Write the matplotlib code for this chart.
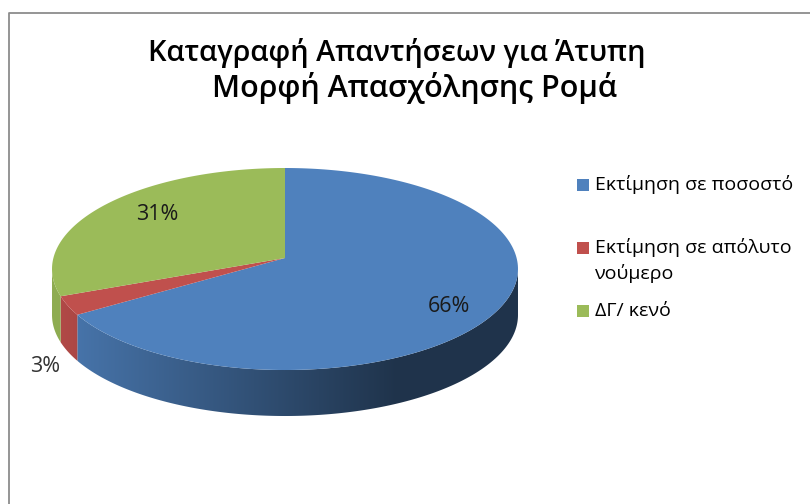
import numpy as np
import matplotlib
matplotlib.use('Agg')
import matplotlib.pyplot as plt
from matplotlib.colors import to_rgb
from matplotlib.patches import Polygon, Rectangle

plt.rcParams['font.family'] = ['Open Sans', 'DejaVu Sans']

title_lines = ['Καταγραφή Απαντήσεων για Άτυπη', 'Μορφή Απασχόλησης Ρομά']
categories = ['Εκτίμηση σε ποσοστό', 'Εκτίμηση σε απόλυτο\nνούμερο', 'ΔΓ/ κενό']
values = [66, 3, 31]
colors = ['#4f81bd', '#c0504d', '#9bbb59']

# pie geometry, in pixels of the picture
cx, cy = 285, 258
rx, ry, persp = 231.6, 99.8, 0.109
depth = 46


def project(frac):
    # fraction of the pie, clockwise from the top, seen in perspective
    t = 2 * np.pi * np.asarray(frac)
    u, v = np.sin(t), np.cos(t)
    w = 1 + persp * v
    return cx + rx * u / w, cy - ry * v / w


def side_gradient(color):
    # side of the pie gets darker to the right
    k = np.clip((np.arange(810) - 60) / (395 - 60), 0, 1)
    return (0.92 - 0.52 * k)[None, :, None] * np.array(to_rgb(color))


fig = plt.figure(figsize=(8.1, 5.04), dpi=100)
ax = fig.add_axes([0, 0, 1, 1])

# chart frame, runs off the right and bottom of the picture
ax.plot([8.5, 8.5, 810], [504, 12.5, 12.5], color='#8c8c8c', lw=1.3)

edges = np.cumsum([0] + values) / sum(values)

# only the part of the rim between the right and left extremes faces us
fine = np.linspace(0, 1, 2001)
fine_x = project(fine)[0]
front_start, front_end = fine[np.argmax(fine_x)], fine[np.argmin(fine_x)]

# sides first, top faces go over them
for start, end, color in zip(edges[:-1], edges[1:], colors):
    x, y = project(np.linspace(max(start, front_start), min(end, front_end), 200))
    poly = Polygon(np.c_[np.r_[x, x[::-1]], np.r_[y, y[::-1] + depth]], transform=ax.transData)
    im = ax.imshow(side_gradient(color), extent=(0, 810, 504, 0), aspect='auto', interpolation='bilinear')
    im.set_clip_path(poly)

for start, end, color in zip(edges[:-1], edges[1:], colors):
    x, y = project(np.linspace(start, end, 200))
    ax.fill(np.r_[cx, x], np.r_[cy, y], facecolor=color, edgecolor='none')

ax.set_xlim(0, 810)
ax.set_ylim(504, 0)
ax.axis('off')

# percent labels
ax.text(449, 307, '%d%%' % values[0], fontsize=15.5, color='#1a1a1a', ha='center', va='center')
ax.text(45, 366, '%d%%' % values[1], fontsize=15.5, color='#333333', ha='center', va='center')
ax.text(157, 214, '%d%%' % values[2], fontsize=15.5, color='#1a1a1a', ha='center', va='center')

ax.text(397, 53, title_lines[0], fontsize=20.8, fontweight='semibold', color='black',
        ha='center', va='center')
ax.text(414, 88, title_lines[1], fontsize=22, fontweight='semibold', color='black',
        ha='center', va='center')

# legend
for cat, color, ys, yt in zip(categories, colors, [185, 248, 311], [184, 260.5, 311]):
    ax.add_patch(Rectangle((577, ys - 6), 12, 12, facecolor=color, edgecolor='none'))
    ax.text(595, yt, cat, fontsize=14, color='black', ha='left', va='center', linespacing=1.43)

fig.savefig('out.png', dpi=100)
